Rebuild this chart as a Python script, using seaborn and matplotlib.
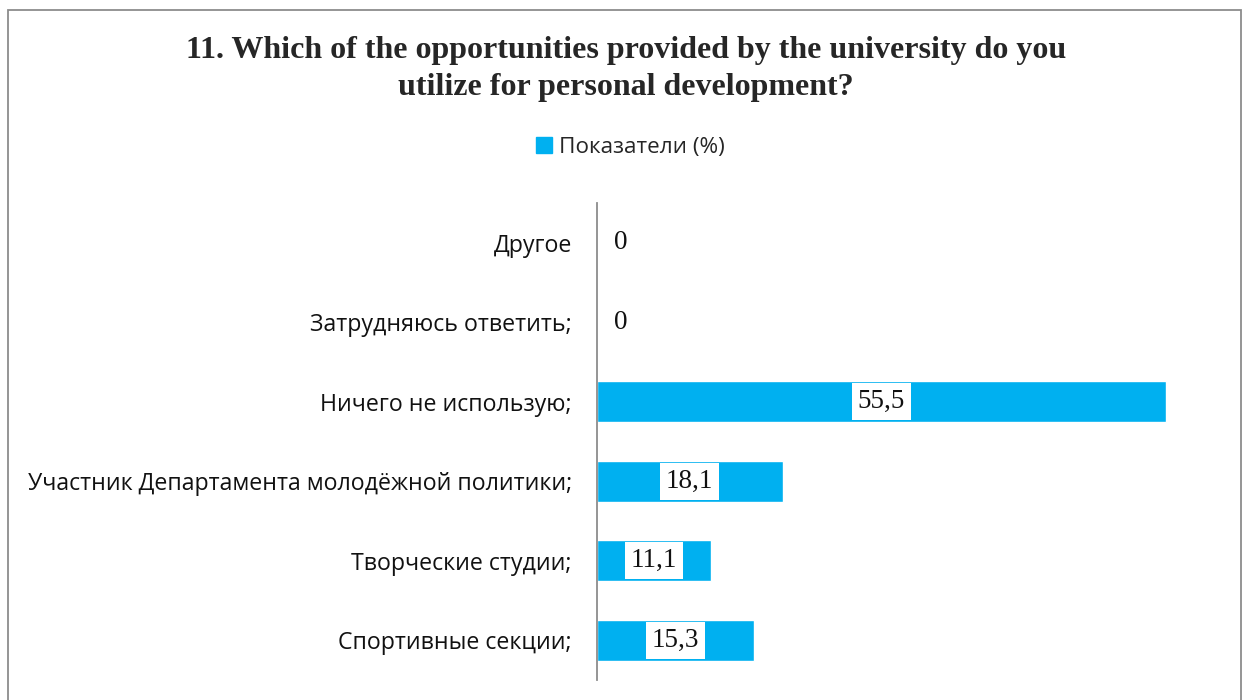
import matplotlib
matplotlib.use("Agg")
import matplotlib.pyplot as plt
import matplotlib.patches as mpatches
import seaborn as sns
import pandas as pd

categories = [
    "Другое",
    "Затрудняюсь ответить;",
    "Ничего не использую;",
    "Участник Департамента молодёжной политики;",
    "Творческие студии;",
    "Спортивные секции;",
]
values = [0, 0, 55.5, 18.1, 11.1, 15.3]
value_labels = ["0", "0", "55,5", "18,1", "11,1", "15,3"]
series_name = "Показатели (%)"
title = "11. Which of the opportunities provided by the university do you\nutilize for personal development?"

BAR_COLOR = "#00B0F0"

sns.set_theme(style="white")
plt.rcParams["font.family"] = ["Open Sans", "DejaVu Sans"]

df = pd.DataFrame({"category": categories, "value": values})

fig = plt.figure(figsize=(12.45, 7.0), dpi=100)
ax = fig.add_axes([0.4795, 0.0286, 0.494, 0.6814])

sns.barplot(data=df, x="value", y="category", orient="h", color=BAR_COLOR,
            saturation=1, width=0.51, ax=ax, label=series_name)

ax.set_xlim(0, 60)
ax.set_xlabel("")
ax.set_ylabel("")
ax.set_xticks([])
for side in ["top", "right", "bottom"]:
    ax.spines[side].set_visible(False)
ax.spines["left"].set_color("#8c8c8c")
ax.spines["left"].set_linewidth(1.3)
ax.tick_params(axis="y", length=0, pad=18, labelsize=16.7, labelcolor="#111111")
if ax.get_legend() is not None:
    ax.get_legend().remove()

# value labels in white boxes at the middle of each bar
for i, (v, lab) in enumerate(zip(values, value_labels)):
    x = v / 2 if v > 0 else 0
    ax.annotate(lab, xy=(x, i), xytext=(17 if v == 0 else 0, 0),
                textcoords="offset points", ha="center", va="center",
                fontsize=19.5, family="Liberation Serif", color="#111111",
                bbox=dict(boxstyle="square,pad=0.22", fc="white", ec="none"))

# title and legend
fig.text(0.503, 0.902, title, ha="center", va="center", fontsize=23,
         fontweight="bold", family="Liberation Serif", linespacing=1.37)
handle = mpatches.Patch(color=BAR_COLOR, label=series_name)
fig.legend(handles=[handle], loc="center", bbox_to_anchor=(0.506, 0.789),
           frameon=False, fontsize=16.2, handlelength=0.72, handleheight=0.72,
           handletextpad=0.3)

# chart-area border
fig.patches.append(mpatches.Rectangle((0.0064, -0.05), 0.9904, 1.0357,
                                      transform=fig.transFigure, fill=False,
                                      ec="#8c8c8c", lw=1.3))

fig.savefig("out.png", dpi=100)
